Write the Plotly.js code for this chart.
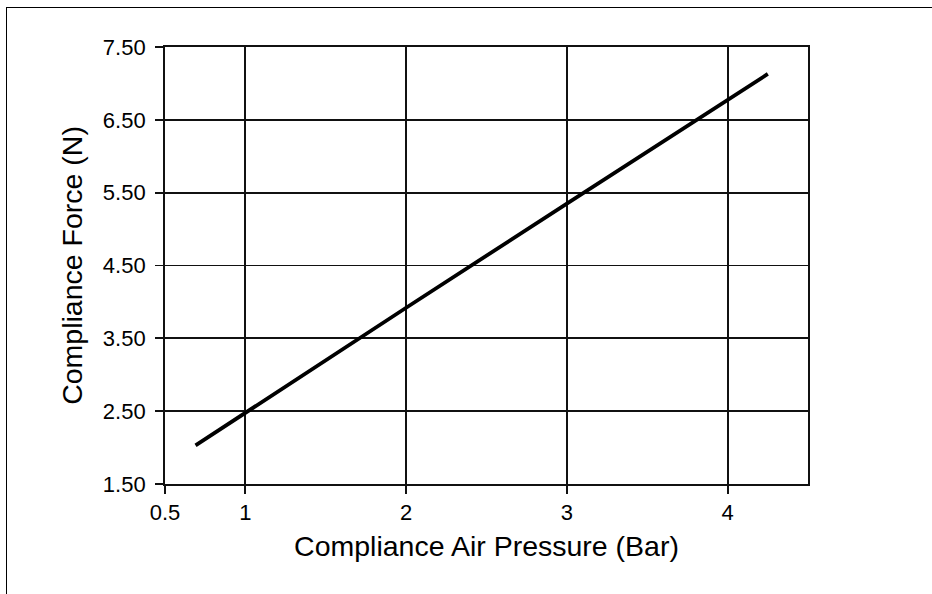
<!DOCTYPE html>
<html>
<head>
<meta charset="utf-8">
<script src="https://cdn.plot.ly/plotly-3.0.1.min.js"></script>
<style>
  html, body { margin: 0; padding: 0; background: #fff; }
  #wrap { position: relative; width: 932px; height: 594px; }
  #chart { position: absolute; left: 0; top: 0; width: 932px; height: 594px; }
  #frame { position: absolute; left: 6px; top: 7px; right: -5px; bottom: -5px;
           border-top: 1.5px solid #000; border-left: 1.5px solid #000; pointer-events: none; }
</style>
</head>
<body>
<div id="wrap">
  <div id="chart"></div>
  <div id="frame"></div>
</div>
<script>
// Data
const airPressure = [0.69, 1, 2, 3, 4, 4.25];
const complianceForce = [2.03, 2.48, 3.92, 5.35, 6.78, 7.13];

const xTickVals = [0.5, 1, 2, 3, 4];
const xTickText = ["0.5", "1", "2", "3", "4"];
const yTickVals = [1.5, 2.5, 3.5, 4.5, 5.5, 6.5, 7.5];
const yTickText = ["1.50", "2.50", "3.50", "4.50", "5.50", "6.50", "7.50"];

const FONT = '"Liberation Sans", Arial, sans-serif';

const trace = {
  x: airPressure,
  y: complianceForce,
  type: 'scatter',
  mode: 'lines',
  line: { color: '#000', width: 3.8 },
  hoverinfo: 'skip',
  showlegend: false
};

const layout = {
  width: 932,
  height: 594,
  margin: { l: 165, r: 124, t: 47, b: 110, pad: 0 },
  paper_bgcolor: '#fff',
  plot_bgcolor: '#fff',
  font: { family: FONT, color: '#000' },
  showlegend: false,
  xaxis: {
    range: [0.5, 4.5],
    tickmode: 'array',
    tickvals: xTickVals,
    ticktext: xTickText,
    showgrid: true,
    gridcolor: '#111',
    gridwidth: 1.8,
    zeroline: false,
    showline: true,
    mirror: true,
    linecolor: '#111',
    linewidth: 1.9,
    ticks: 'outside',
    ticklen: 8,
    tickwidth: 1.8,
    tickcolor: '#111',
    tickfont: { family: FONT, size: 22, color: '#000' },
    ticklabelstandoff: 0,
    automargin: false,
    title: { text: 'Compliance Air Pressure (Bar)', font: { family: FONT, size: 28.5, color: '#000' }, standoff: 12 }
  },
  yaxis: {
    range: [1.5, 7.5],
    tickmode: 'array',
    tickvals: yTickVals,
    ticktext: yTickText,
    showgrid: true,
    gridcolor: '#111',
    gridwidth: 1.8,
    zeroline: false,
    showline: true,
    mirror: true,
    linecolor: '#111',
    linewidth: 1.9,
    ticks: 'outside',
    ticklen: 8,
    tickwidth: 1.8,
    tickcolor: '#111',
    tickfont: { family: FONT, size: 22, color: '#000' },
    ticklabelstandoff: 5,
    automargin: false,
    title: { text: 'Compliance Force (N)', font: { family: FONT, size: 28.5, color: '#000' }, standoff: 12 }
  }
};

Plotly.newPlot('chart', [trace], layout, { displayModeBar: false, staticPlot: true });
</script>
</body>
</html>
